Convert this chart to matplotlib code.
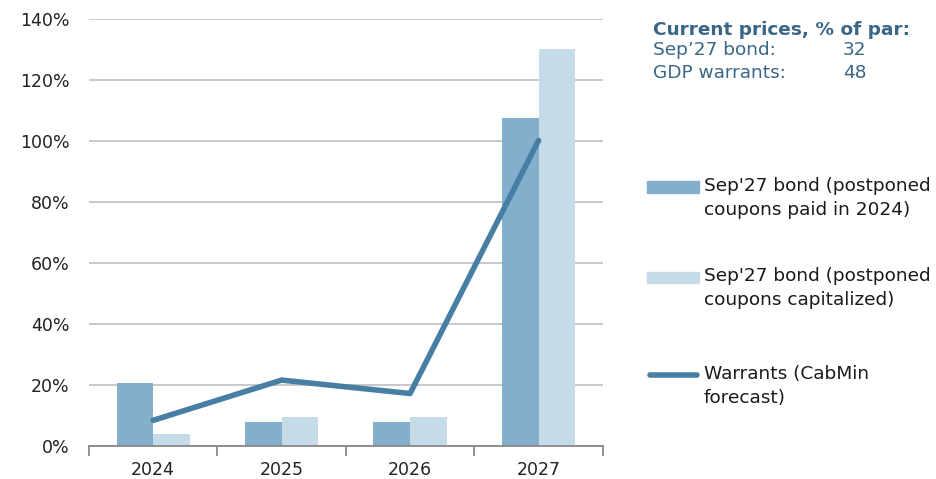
import numpy as np
import matplotlib.pyplot as plt
from matplotlib.ticker import FuncFormatter
from matplotlib.patches import Rectangle
from matplotlib.lines import Line2D

years = ["2024", "2025", "2026", "2027"]
bond_paid = [20.8, 7.8, 7.8, 107.7]
bond_cap = [3.9, 9.4, 9.4, 130.2]
warrants = [8.4, 21.6, 17.2, 100.2]

labels = ["Sep'27 bond (postponed\ncoupons paid in 2024)",
          "Sep'27 bond (postponed\ncoupons capitalized)",
          "Warrants (CabMin\nforecast)"]
price_names = ["Sep\u201927 bond:", "GDP warrants:"]
price_vals = ["32", "48"]

c_dark = "#84afcc"
c_light = "#c5dbe7"
c_line = "#467fa3"
c_text = "#3a6686"

plt.rcParams['font.family'] = 'DejaVu Sans'
fig = plt.figure(figsize=(9.36, 4.79), dpi=100)
ax = fig.add_axes([0.095, 0.069, 0.549, 0.891])

x = np.arange(len(years))
w = 0.285
ax.bar(x - w / 2, bond_paid, w, color=c_dark, zorder=2)
ax.bar(x + w / 2, bond_cap, w, color=c_light, zorder=2)
ax.plot(x, warrants, color=c_line, lw=4, solid_capstyle='round', zorder=3)

ax.set_xlim(-0.5, 3.5)
ax.set_ylim(0, 140)
ax.set_yticks(range(0, 141, 20))
ax.yaxis.set_major_formatter(FuncFormatter(lambda v, p: f"{v:.0f}%"))
ax.grid(axis='y', color='#c4c4c4', lw=1.3, zorder=0)
ax.set_axisbelow(True)
for s in ['top', 'right', 'left']:
    ax.spines[s].set_visible(False)
ax.spines['bottom'].set_color('#888888')
ax.spines['bottom'].set_linewidth(1.3)
ax.tick_params(axis='y', length=0, labelsize=12.5, pad=14, colors='#222222')
ax.set_xticks(x)
ax.set_xticklabels(years)
ax.tick_params(axis='x', length=0, labelsize=12.5, pad=11, colors='#222222')
ax.set_xticks(np.arange(-0.5, 3.6, 1), minor=True)
ax.tick_params(axis='x', which='minor', length=7, width=1.3, color='#888888')

# legend drawn by hand so the key sits beside the first text line
W, H = 936, 479
key_y = [187, 277, 375]
for i, lab in enumerate(labels):
    yf = 1 - key_y[i] / H
    if i < 2:
        fig.patches.append(Rectangle((647 / W, yf - 5.5 / H), 52 / W, 11 / H,
                                     transform=fig.transFigure,
                                     color=[c_dark, c_light][i]))
    else:
        fig.lines.append(Line2D([650 / W, 697 / W], [yf, yf], transform=fig.transFigure,
                                color=c_line, lw=4, solid_capstyle='round'))
    fig.text(704 / W, yf + 10 / H, lab, fontsize=13.3, color='#1a1a1a', va='top',
             linespacing=1.4)

fig.text(653 / W, 1 - 30 / H, "Current prices, % of par:", fontsize=13.3, fontweight='bold',
         color=c_text, va='center')
for i, (n, v) in enumerate(zip(price_names, price_vals)):
    yy = 1 - (50 + i * 23) / H
    fig.text(653 / W, yy, n, fontsize=13.3, color=c_text, va='center')
    fig.text(843 / W, yy, v, fontsize=13.3, color=c_text, va='center')

plt.savefig("out.png", dpi=100)
